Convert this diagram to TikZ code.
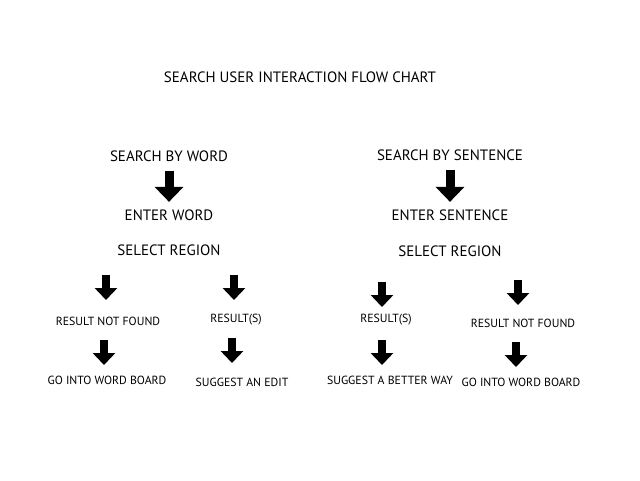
\documentclass[tikz,border=0pt]{standalone}
\usepackage{fontspec}
\setmainfont{PT Sans}
\usetikzlibrary{arrows.meta}

\tikzset{
  bigtext/.style={font=\fontsize{15}{18}\selectfont},
  smalltext/.style={font=\fontsize{11.8}{14}\selectfont},
  bigarrow/.style={line width=9pt,-{Triangle[width=28pt,length=15pt]}},
  smallarrow/.style={line width=8pt,-{Triangle[width=22pt,length=12pt]}},
}

\begin{document}
\begin{tikzpicture}[x=1pt,y=-1pt,every node/.style={inner sep=0pt,align=center}]
\useasboundingbox (0,0) rectangle (640,480);

\node[bigtext] (title) at (300,77) {SEARCH USER INTERACTION FLOW CHART};

% word side
\node[bigtext] (sw) at (169,156) {SEARCH BY WORD};
\node[bigtext] (ew) at (169,215) {ENTER WORD};
\node[bigtext] (rw) at (169,250) {SELECT REGION};
\draw[bigarrow,shorten <=9pt,shorten >=7.5pt] (sw.south) -- (ew.north);

% sentence side
\node[bigtext] (ss) at (450,155) {SEARCH BY SENTENCE};
\node[bigtext] (es) at (450,215) {ENTER SENTENCE};
\node[bigtext] (rs) at (450,251) {SELECT REGION};
\draw[bigarrow,shorten <=9pt,shorten >=7.5pt] (ss.south) -- (es.north);

% results
\node[smalltext] (nf1) at (108,321) {RESULT NOT FOUND};
\node[smalltext] (gb1) at (107,380) {GO INTO WORD BOARD};
\node[smalltext] (rs1) at (236,320) {RESULT(S)};
\node[smalltext] (se1) at (242,382) {SUGGEST AN EDIT};
\node[smalltext] (rs2) at (386,320) {RESULT(S)};
\node[smalltext] (sb2) at (390,380) {SUGGEST A BETTER WAY};
\node[smalltext] (nf2) at (523,323) {RESULT NOT FOUND};
\node[smalltext] (gb2) at (521,382) {GO INTO WORD BOARD};

\coordinate (a1) at (106,275);
\coordinate (a2) at (104,340);
\coordinate (a3) at (234,275);
\coordinate (a4) at (232,338);
\coordinate (a5) at (382,282);
\coordinate (a6) at (382,340);
\coordinate (a7) at (518,280);
\coordinate (a8) at (516,342);
\foreach \a in {a1,a2,a3,a4,a5,a6,a7,a8}
  \draw[smallarrow] (\a) -- ++(0,25);

\end{tikzpicture}
\end{document}
